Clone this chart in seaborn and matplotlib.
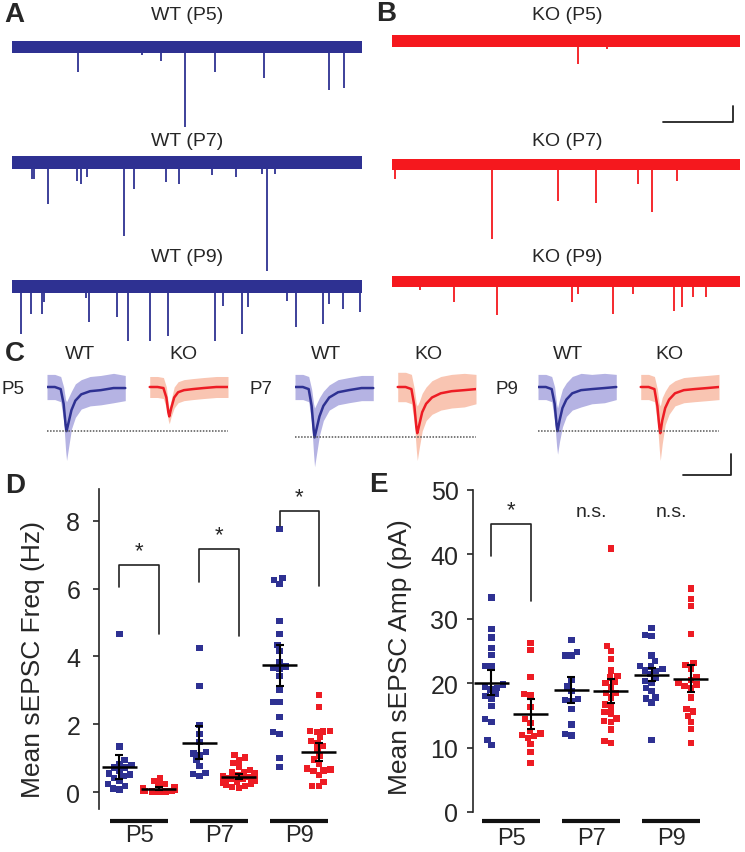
import warnings
warnings.filterwarnings("ignore")
import numpy as np
import pandas as pd
import matplotlib
matplotlib.use("Agg")
import matplotlib.pyplot as plt
import matplotlib.transforms as mtrans
import seaborn as sns

sns.set_theme(style="ticks")
plt.rcParams['font.family'] = ['Liberation Sans', 'DejaVu Sans']

# ------------------------------------------------------------------ data
AGES = ["P5", "P7", "P9"]
GENOS = ["WT", "KO"]

# Panel A/B raw traces: event times (s) and amplitudes (pA)
WT_P5_T = [1.89, 3.71, 4.26, 4.94, 5.80, 7.20, 9.06, 9.49]
WT_P5_A = [31, 10, 17, 100, 31, 39, 54, 51]
WT_P7_T = [0.57, 0.63, 1.03, 1.86, 1.97, 2.14, 3.20, 3.49, 4.40, 4.77, 5.71, 6.40, 7.14, 7.29, 7.51]
WT_P7_A = [21, 21, 52, 24, 27, 19, 92, 34, 25, 27, 16, 19, 15, 136, 15]
WT_P9_T = [0.26, 0.54, 0.86, 0.91, 2.10, 2.20, 3.00, 3.31, 3.94, 4.46, 5.80, 6.03, 6.57, 6.74,
           7.86, 8.11, 8.89, 9.06, 9.46, 9.94]
WT_P9_A = [60, 35, 35, 20, 15, 45, 39, 68, 68, 62, 68, 25, 60, 26, 18, 51, 47, 22, 29, 32]
KO_P5_T = [5.34, 6.18]
KO_P5_A = [29, 10]
KO_P7_T = [0.09, 2.87, 4.77, 5.86, 7.07, 7.47, 8.19]
KO_P7_A = [19, 94, 46, 49, 25, 60, 21]
KO_P9_T = [0.80, 1.78, 3.02, 5.17, 5.34, 6.35, 6.93, 8.10, 8.33, 8.65, 9.02]
KO_P9_A = [10, 25, 42, 25, 15, 40, 15, 37, 31, 19, 19]

# Panel C averaged events: time (ms), mean current (pA), spread (pA)
C_T = [0, 8, 14, 17, 19, 20, 22, 25, 29, 35, 44, 55, 68, 80]
WT_P5_AVG = [0, 0, -1, -8, -18, -21, -17, -11, -6.5, -3.5, -2, -1.5, -0.5, -0.5]
KO_P5_AVG = [0, 0, -0.5, -5, -12, -14, -10, -5, -2.5, -1.5, -1, -0.5, 0, 0]
WT_P7_AVG = [0, 0, -1, -9, -20, -24, -20, -14, -9, -5, -2.5, -1.5, -0.5, -0.5]
KO_P7_AVG = [0, 0, -1, -9, -19, -22, -18, -12, -8, -5, -3, -2, -1.5, -1]
WT_P9_AVG = [0, 0, -1, -8, -18, -21, -16, -10, -6, -3, -1.5, -1, -0.5, 0]
KO_P9_AVG = [0, 0, -1, -9, -19, -22, -16, -10, -6, -3, -1.5, -1, -0.5, 0]
WT_P5_SD = [6, 6, 6, 8, 12, 14, 12, 9, 8, 7, 7, 7, 7, 6]
KO_P5_SD = [5, 5, 5, 5, 4, 3.5, 4, 5, 5, 5, 5, 5, 5, 5]
WT_P7_SD = [6, 6, 6, 8, 12, 14, 12, 9, 7, 6, 6, 6, 6, 6]
KO_P7_SD = [7, 7, 7, 8, 11, 13, 11, 9, 8, 8, 8, 8, 8, 7]
WT_P9_SD = [6, 6, 6, 8, 10, 11, 10, 9, 8, 8, 8, 7, 7, 6]
KO_P9_SD = [6, 6, 6, 8, 11, 13, 11, 8, 7, 6, 6, 6, 6, 6]

# Panel D: mean sEPSC frequency (Hz), one value per cell
FREQ_WT_P5 = [4.67, 1.34, 0.94, 0.82, 0.79, 0.72, 0.72, 0.62, 0.55, 0.52, 0.47, 0.42, 0.32, 0.23, 0.18, 0.10, 0.08]
FREQ_KO_P5 = [0.40, 0.33, 0.24, 0.20, 0.15, 0.12, 0.10, 0.08, 0.06, 0.05, 0.04, 0.03, 0.02, 0.02, 0.01]
FREQ_WT_P7 = [4.25, 3.12, 1.98, 1.71, 1.47, 1.18, 1.14, 1.10, 0.94, 0.77, 0.56, 0.53, 0.47]
FREQ_KO_P7 = [1.10, 1.02, 0.95, 0.85, 0.75, 0.65, 0.60, 0.58, 0.55, 0.52, 0.50, 0.48, 0.45, 0.42,
              0.40, 0.38, 0.35, 0.32, 0.30, 0.28, 0.25, 0.22, 0.18, 0.15, 0.12]
FREQ_WT_P9 = [7.76, 6.31, 6.25, 6.14, 5.04, 4.66, 4.34, 4.16, 3.84, 3.70, 3.66, 3.64, 3.42, 3.01,
              2.65, 2.65, 2.21, 1.78, 1.72, 1.00, 0.74]
FREQ_KO_P9 = [2.86, 2.51, 1.80, 1.80, 1.79, 1.78, 1.62, 1.50, 1.45, 1.35, 1.25, 1.07, 0.96, 0.83,
              0.70, 0.66, 0.64, 0.62, 0.51, 0.30, 0.18, 0.17]
FREQ_MEAN_WT = [0.74, 1.46, 3.74]
FREQ_SEM_WT = [0.36, 0.48, 0.61]
FREQ_MEAN_KO = [0.10, 0.45, 1.19]
FREQ_SEM_KO = [0.04, 0.07, 0.27]

# Panel E: mean sEPSC amplitude (pA)
AMP_WT_P5 = [33.3, 28.4, 27.1, 25.5, 24.4, 22.7, 22.7, 19.8, 19.5, 19.3, 19.0, 18.3, 18.0, 17.5,
             16.5, 14.4, 14.0, 11.2, 10.4]
AMP_KO_P5 = [26.2, 25.2, 21.0, 18.3, 18.2, 16.3, 14.4, 13.8, 12.6, 12.2, 12.0, 11.8, 11.5, 10.6, 9.3, 7.6]
AMP_WT_P7 = [26.7, 24.8, 24.3, 24.3, 20.6, 19.5, 18.8, 17.5, 17.4, 17.2, 16.0, 13.6, 12.1, 11.9]
AMP_KO_P7 = [40.9, 25.8, 25.0, 23.8, 22.0, 21.1, 20.9, 20.2, 20.0, 19.4, 18.5, 18.5, 17.8, 16.7,
             16.2, 15.5, 15.2, 14.5, 14.1, 14.0, 12.8, 11.0, 10.7]
AMP_WT_P9 = [28.6, 27.5, 27.3, 24.3, 23.4, 22.7, 22.6, 22.2, 22.0, 21.9, 21.4, 20.8, 20.3, 20.0,
             19.3, 18.8, 17.8, 17.6, 17.0, 11.2]
AMP_KO_P9 = [34.7, 33.1, 32.0, 27.6, 23.1, 22.8, 22.2, 21.0, 20.5, 20.1, 19.8, 19.6, 19.3, 17.8,
             16.0, 15.6, 14.9, 14.0, 12.9, 10.7]
AMP_MEAN_WT = [20.1, 18.9, 21.3]
AMP_SEM_WT = [2.0, 2.0, 1.0]
AMP_MEAN_KO = [15.2, 18.8, 20.7]
AMP_SEM_KO = [2.3, 1.8, 2.1]

# significance brackets: (left leg bottom, top, right leg bottom)
D_BR_LEFT = [6.05, 6.19, 7.85]
D_BR_TOP = [6.70, 7.17, 8.29]
D_BR_RIGHT = [4.66, 4.60, 6.08]
E_BR = [39.8, 44.7, 32.8]
E_MARKS = ["*", "n.s.", "n.s."]

# ------------------------------------------------------------------ style
BLUE = "#2E3192"
RED = "#ED1C24"
TRACE_RED = "#F5181E"
BLUE_L = "#B5B3E3"
RED_L = "#F9C5B2"
W, H = 745, 853


def rect(l, t, r, b):
    return [l / W, 1 - b / H, (r - l) / W, (b - t) / H]


fig = plt.figure(figsize=(W / 100, H / 100), dpi=100)


def ftext(x, y, s, size=13.5, **kw):
    fig.text(x / W, 1 - y / H, s, fontsize=size, ha=kw.pop("ha", "center"),
             va=kw.pop("va", "center"), **kw)


# ------------------------------------------------------------------ A / B
def raw_panel(r, offsets, traces, color, hw, ylim):
    ax = fig.add_axes(r)
    for off, (tt, aa) in zip(offsets, traces):
        ax.fill_between([0, 10], off - hw, off + hw, color=color, lw=0)
        ax.vlines(tt, off, off - np.asarray(aa, float), color=color, lw=1.3)
    ax.set_xlim(0, 10)
    ax.set_ylim(*ylim)
    ax.axis("off")
    return ax


axA = raw_panel(rect(12, 25, 362, 350), [0, -144, -299],
                [(WT_P5_T, WT_P5_A), (WT_P7_T, WT_P7_A), (WT_P9_T, WT_P9_A)],
                BLUE, 8, (-377.5, 28.75))
axB = raw_panel(rect(392, 25, 740, 350), [0, -154, -301],
                [(KO_P5_T, KO_P5_A), (KO_P7_T, KO_P7_A), (KO_P9_T, KO_P9_A)],
                TRACE_RED, 7, (-385, 21.25))
# scale bar (2 s, 20 pA)
axB.plot([7.8, 9.8, 9.8], [-101, -101, -81], color="#222222", lw=1.3, clip_on=False)

for y, a in zip([15, 141, 257], AGES):
    ftext(187, y, f"WT ({a})", size=14)
    ftext(567, y, f"KO ({a})", size=14)

# ------------------------------------------------------------------ C
c_sets = [
    (AGES[0], 47, 228, WT_P5_AVG, WT_P5_SD, KO_P5_AVG, KO_P5_SD),
    (AGES[1], 295, 476, WT_P7_AVG, WT_P7_SD, KO_P7_AVG, KO_P7_SD),
    (AGES[2], 538, 719, WT_P9_AVG, WT_P9_SD, KO_P9_AVG, KO_P9_SD),
]
c_axes = []
for age, l, r, wa, ws, ka, ks in c_sets:
    ax = fig.add_axes(rect(l, 365, r, 470))
    t = np.asarray(C_T, float)
    for t0, avg, sd, dark, light in [(0, wa, ws, BLUE, BLUE_L), (105, ka, ks, RED, RED_L)]:
        avg = np.asarray(avg, float)
        sd = np.asarray(sd, float)
        ax.fill_between(t + t0, avg - sd, avg + sd, color=light, lw=0)
        ax.plot(t + t0, avg, color=dark, lw=1.8)
    ax.hlines(min(wa), 0, 185, colors="#555555", linestyles=(0, (1, 1)), lw=1.1)
    ax.set_xlim(0, 185)
    ax.set_ylim(-39.05, 10.95)
    ax.axis("off")
    c_axes.append(ax)
# scale bar (50 ms, 10 pA)
c_axes[2].plot([148, 197, 197], [-41.9, -41.9, -31.9], color="#222222", lw=1.3, clip_on=False)

for x, s in [(80, "WT"), (183, "KO"), (326, "WT"), (428, "KO"), (568, "WT"), (669, "KO")]:
    ftext(x, 355, s, size=14)
for x, s in [(13, "P5"), (261, "P7"), (507, "P9")]:
    ftext(x, 390, s, size=13.5)

# ------------------------------------------------------------------ D / E
def long_df(groups):
    rows = []
    for ai, age in enumerate(AGES):
        for g, vals in zip(GENOS, groups[ai]):
            for v in vals:
                rows.append({"age": age, "geno": g, "val": v,
                             "pos": ai + (-0.245 if g == "WT" else 0.245)})
    return pd.DataFrame(rows)


dfF = long_df([(FREQ_WT_P5, FREQ_KO_P5), (FREQ_WT_P7, FREQ_KO_P7), (FREQ_WT_P9, FREQ_KO_P9)])
dfA = long_df([(AMP_WT_P5, AMP_KO_P5), (AMP_WT_P7, AMP_KO_P7), (AMP_WT_P9, AMP_KO_P9)])


def scatter_panel(r, df, means_wt, sems_wt, means_ko, sems_ko, ylim, yticks, ylabel,
                  label_x, label_y, pad, bar_y, xlim):
    ax = fig.add_axes(r)
    sns.swarmplot(data=df, x="pos", y="val", hue="geno", hue_order=GENOS,
                  palette={"WT": BLUE, "KO": RED}, native_scale=True, marker="s",
                  size=4.6, linewidth=0, legend=False, ax=ax, zorder=2)
    for off, means, sems in [(-0.245, means_wt, sems_wt), (0.245, means_ko, sems_ko)]:
        pos = np.arange(3) + off
        ax.hlines(means, pos - 0.22, pos + 0.22, colors="black", lw=1.8, zorder=4)
        ax.errorbar(pos, means, yerr=sems, fmt="none", ecolor="black", elinewidth=1.5,
                    capsize=3, capthick=1.5, zorder=4)
    ax.set_xlim(*xlim)
    ax.set_ylim(*ylim)
    ax.set_yticks(yticks)
    ax.set_xticks([0, 1, 2], AGES)
    ax.tick_params(axis="x", length=0, pad=11, labelsize=17)
    ax.tick_params(axis="y", length=4, width=1.2, labelsize=18, pad=pad, left=True)
    for s in ["top", "right", "bottom"]:
        ax.spines[s].set_visible(False)
    ax.spines["left"].set_linewidth(1.2)
    ax.set_xlabel("")
    ax.set_ylabel(ylabel, fontsize=19)
    ax.yaxis.set_label_coords(label_x, label_y)
    tr = mtrans.blended_transform_factory(ax.transData, ax.transAxes)
    for i in range(3):
        ax.plot([i - 0.36, i + 0.36], [bar_y, bar_y], color="#111111", lw=3,
                solid_capstyle="butt", transform=tr, clip_on=False)
    return ax


axD = scatter_panel(rect(99, 490, 344, 810), dfF, FREQ_MEAN_WT, FREQ_SEM_WT,
                    FREQ_MEAN_KO, FREQ_SEM_KO, (-0.5, 8.94), [0, 2, 4, 6, 8],
                    "Mean sEPSC Freq (Hz)", -0.22, 0.47, 9.5, -0.0375, (-0.5, 2.56))
axE = scatter_panel(rect(473, 491, 718, 813), dfA, AMP_MEAN_WT, AMP_SEM_WT,
                    AMP_MEAN_KO, AMP_SEM_KO, (0, 50), [0, 10, 20, 30, 40, 50],
                    "Mean sEPSC Amp (pA)", -0.249, 0.485, 6.5, -0.028, (-0.475, 2.585))

for i in range(3):
    axD.plot([i - 0.245, i - 0.245, i + 0.245, i + 0.245],
             [D_BR_LEFT[i], D_BR_TOP[i], D_BR_TOP[i], D_BR_RIGHT[i]],
             color="#222222", lw=1.2)
    axD.text(i, D_BR_TOP[i] + 0.12, "*", ha="center", va="bottom", fontsize=16)

axE.plot([-0.245, -0.245, 0.245, 0.245], [E_BR[0], E_BR[1], E_BR[1], E_BR[2]],
         color="#222222", lw=1.2)
axE.text(0, E_BR[1] + 0.6, E_MARKS[0], ha="center", va="bottom", fontsize=16)
for i in (1, 2):
    axE.text(i, 45.3, E_MARKS[i], ha="center", va="bottom", fontsize=14)

# ------------------------------------------------------------------ panel letters
for x, y, s in [(14, 15, "A"), (386, 14, "B"), (15, 354, "C"), (15, 486, "D"), (378, 485, "E")]:
    ftext(x, y, s, size=20, fontweight="bold")

fig.savefig("out.png", dpi=100)
